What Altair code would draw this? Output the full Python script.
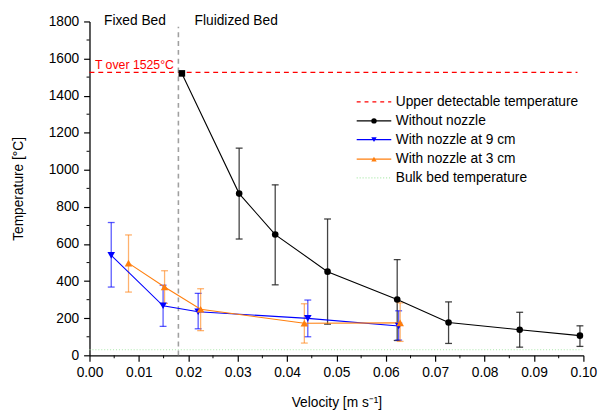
import altair as alt
import pandas as pd

# ---- data ----
v_none = [0.0187, 0.0303, 0.0376, 0.0482, 0.0623, 0.0727, 0.0871, 0.0993]
t_none = [1520, 872, 651, 451, 301, 177, 138, 106]
lo_none = [None, 627, 380, 168, 80, 64, 44, 48]
hi_none = [None, 1117, 919, 735, 516, 288, 232, 159]

v_9cm = [0.0044, 0.0149, 0.0220, 0.0442, 0.0626]
t_9cm = [539, 267, 235, 199, 158]
lo_9cm = [368, 156, 143, 100, 82]
hi_9cm = [716, 378, 334, 298, 240]

v_3cm = [0.0079, 0.0152, 0.0225, 0.0435, 0.0629]
t_3cm = [497, 368, 248, 173, 175]
lo_3cm = [341, 280, 133, 66, 75]
hi_3cm = [649, 456, 359, 278, 283]

upper_T = 1525
bulk_T = 30
transition_v = 0.018

x_ticks = [0.00, 0.01, 0.02, 0.03, 0.04, 0.05, 0.06, 0.07, 0.08, 0.09, 0.10]
x_minor = [0.005, 0.015, 0.025, 0.035, 0.045, 0.055, 0.065, 0.075, 0.085, 0.095]
y_ticks = [0, 200, 400, 600, 800, 1000, 1200, 1400, 1600, 1800]
y_minor = [100, 300, 500, 700, 900, 1100, 1300, 1500, 1700]

legend_labels = ["Upper detectable temperature", "Without nozzle",
                 "With nozzle at 9 cm", "With nozzle at 3 cm", "Bulk bed temperature"]

W, H = 503, 340
FONT = "Liberation Sans"
C_BLACK, C_BLUE, C_ORANGE, C_RED, C_GREEN = "#000000", "#0000ff", "#ff7f0e", "#ff0000", "#a8e8a8"

xs = alt.Scale(domain=[0, 0.1], nice=False, zero=False)
ys = alt.Scale(domain=[0, 1800], nice=False, zero=False)
xaxis = alt.Axis(values=x_ticks, format=".2f", title="Velocity [m s\u207b\u00b9]", labelOverlap=False)
yaxis = alt.Axis(values=y_ticks, format="d", title="Temperature [°C]", labelOverlap=False, tickCount=10)


def X(f):
    return alt.X(f, type="quantitative", scale=xs, axis=xaxis)


def Y(f):
    return alt.Y(f, type="quantitative", scale=ys, axis=yaxis)


def series_df(v, t, lo, hi):
    return pd.DataFrame({"v": v, "t": t, "lo": lo, "hi": hi})


d_none = series_df(v_none, t_none, lo_none, hi_none)
d_9 = series_df(v_9cm, t_9cm, lo_9cm, hi_9cm)
d_3 = series_df(v_3cm, t_3cm, lo_3cm, hi_3cm)
one = pd.DataFrame({"k": [0]})

layers = []

# axes carrier layer
layers.append(alt.Chart(d_none).mark_point(opacity=0).encode(x=X("v"), y=Y("t")))

# reference lines
layers.append(alt.Chart(one).mark_rule(color=C_GREEN, strokeDash=[1, 2], strokeWidth=1).encode(
    x=alt.datum(0.0), x2=alt.datum(0.1), y=alt.datum(bulk_T)))
layers.append(alt.Chart(one).mark_rule(color=C_RED, strokeDash=[5, 4], strokeWidth=1.3).encode(
    x=alt.datum(0.0), x2=alt.datum(0.0988), y=alt.datum(upper_T)))
layers.append(alt.Chart(one).mark_rule(color="#a0a0a0", strokeDash=[5, 4], strokeWidth=1.6).encode(
    x=alt.datum(transition_v), y=alt.datum(0), y2=alt.datum(1772)))

# error bars (stem + caps)
CAP = "M-1,0H1"
for d, col, op in [(d_none.dropna(), "#222222", 0.85), (d_9, C_BLUE, 0.65), (d_3, C_ORANGE, 0.6)]:
    layers.append(alt.Chart(d).mark_rule(color=col, opacity=op, strokeWidth=1.3).encode(
        x=X("v"), y=Y("lo"), y2="hi"))
    for f in ["lo", "hi"]:
        layers.append(alt.Chart(d).mark_point(shape=CAP, size=49, filled=False, color=col, opacity=op,
                                              strokeWidth=1.3).encode(x=X("v"), y=Y(f)))

# lines
for d, col in [(d_9, C_BLUE), (d_3, C_ORANGE), (d_none, C_BLACK)]:
    layers.append(alt.Chart(d).mark_line(color=col, strokeWidth=1.1).encode(x=X("v"), y=Y("t")))

# markers
layers.append(alt.Chart(d_9).mark_point(shape="triangle-down", filled=True, size=60, color=C_BLUE, opacity=1).encode(
    x=X("v"), y=Y("t")))
layers.append(alt.Chart(d_3).mark_point(shape="triangle-up", filled=True, size=60, color=C_ORANGE, opacity=1).encode(
    x=X("v"), y=Y("t")))
layers.append(alt.Chart(d_none.iloc[1:]).mark_point(shape="circle", filled=True, size=45, color=C_BLACK, opacity=1).encode(
    x=X("v"), y=Y("t")))
layers.append(alt.Chart(d_none.iloc[:1]).mark_point(shape="square", filled=True, size=45, color=C_BLACK, opacity=1).encode(
    x=X("v"), y=Y("t")))

# annotations
layers.append(alt.Chart(one).mark_text(text="Fixed Bed", font=FONT, fontSize=14, color="#000", baseline="middle").encode(
    x=alt.datum(0.0092), y=alt.datum(1800)))
layers.append(alt.Chart(one).mark_text(text="Fluidized Bed", font=FONT, fontSize=14, color="#000", baseline="middle").encode(
    x=alt.datum(0.0297), y=alt.datum(1800)))
layers.append(alt.Chart(one).mark_text(text="T over 1525°C", font=FONT, fontSize=12.5, color=C_RED, baseline="middle").encode(
    x=alt.datum(0.0091), y=alt.datum(1566)))

# minor ticks
layers.append(alt.Chart(pd.DataFrame({"m": y_minor})).mark_rule(color="#000", strokeWidth=1).encode(
    y=alt.Y("m:Q", scale=ys), x=alt.value(-3), x2=alt.value(0)))
layers.append(alt.Chart(pd.DataFrame({"m": x_minor})).mark_rule(color="#000", strokeWidth=1).encode(
    x=alt.X("m:Q", scale=xs), y=alt.value(H), y2=alt.value(H + 3)))

# manual legend
lg_rows = [1366, 1264, 1163, 1058, 957]
lx0, lx1, lxm, lxt = 0.0541, 0.0611, 0.0576, 0.0620
lg_styles = [
    (C_RED, [4, 4], None),
    (C_BLACK, [], "circle"),
    (C_BLUE, [], "triangle-down"),
    (C_ORANGE, [], "triangle-up"),
    (C_GREEN, [1, 2], None),
]
for yv, label, (col, dash, shp) in zip(lg_rows, legend_labels, lg_styles):
    rk = dict(color=col, strokeWidth=1.3)
    if dash:
        rk["strokeDash"] = dash
    layers.append(alt.Chart(one).mark_rule(**rk).encode(
        x=alt.datum(lx0), x2=alt.datum(lx1), y=alt.datum(yv)))
    if shp:
        layers.append(alt.Chart(one).mark_point(shape=shp, filled=True, size=30, color=col, opacity=1).encode(
            x=alt.datum(lxm), y=alt.datum(yv)))
    layers.append(alt.Chart(one).mark_text(text=label, font=FONT, fontSize=14, color="#000", align="left",
                                           baseline="middle").encode(x=alt.datum(lxt), y=alt.datum(yv)))

chart = alt.layer(*layers).properties(
    width=W, height=H,
    autosize=alt.AutoSizeParams(type="none"),
    padding={"left": 83, "top": 10, "right": 22, "bottom": 53},
    background="white",
).configure_view(stroke=None).configure_axis(
    grid=False,
    domainColor="#000", domainWidth=1.3,
    tickColor="#000", tickSize=6, tickWidth=1.2,
    labelFont=FONT, labelFontSize=14, labelColor="#000", labelPadding=5,
    titleFont=FONT, titleFontSize=14, titleFontWeight="normal", titleColor="#000",
).configure_axisY(titlePadding=23).configure_axisX(titlePadding=16, labelFlush=False)

chart.save("out.html", embed_options={"renderer": "svg", "actions": False})
